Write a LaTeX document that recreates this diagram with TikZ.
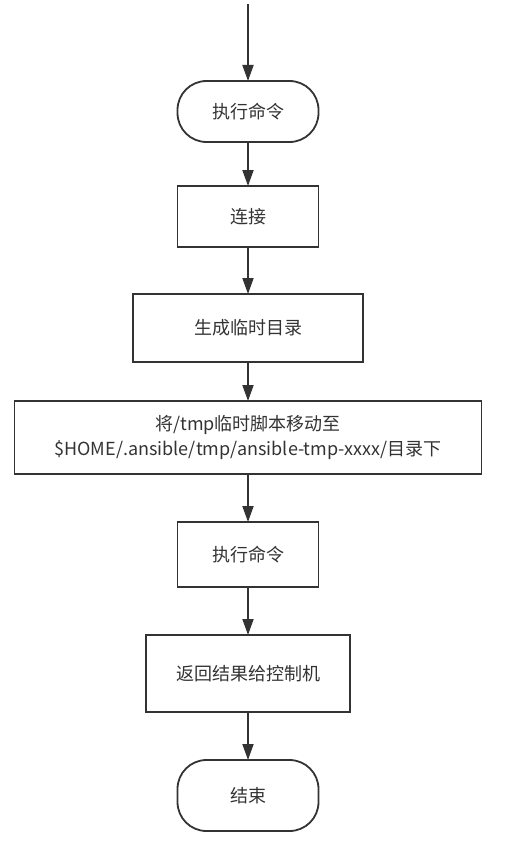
\documentclass[tikz,border=0pt]{standalone}
\usepackage{fontspec}
\setmainfont{Noto Sans CJK SC}
\usetikzlibrary{arrows.meta,positioning}
\definecolor{linegray}{HTML}{333333}

\begin{document}
\begin{tikzpicture}[
    x=1pt, y=1pt,
    font=\fontsize{18pt}{25pt}\selectfont,
    node distance=48pt,
    term/.style={rectangle, rounded corners=29pt,
      draw=linegray, line width=1.8pt, text=linegray, outer sep=0pt,
      minimum width=141pt, align=center, inner sep=0pt},
    proc/.style={rectangle,
      draw=linegray, line width=1.8pt, text=linegray, outer sep=0pt,
      align=center, inner sep=0pt},
    arr/.style={-{Triangle[length=16pt,width=11pt]}, line width=1.8pt, draw=linegray}
  ]
    \useasboundingbox (0,0) rectangle (514,-848);
    \coordinate (entry) at (248,-4);

    \node[term, below=77pt of entry, minimum height=61pt] (run1) {执行命令};
    \node[proc, below=44pt of run1, minimum width=141pt, minimum height=61pt] (conn) {连接};
    \node[proc, below=47pt of conn, minimum width=230pt, minimum height=68pt] (mkdir) {生成临时目录};
    \node[proc, below=39pt of mkdir, minimum width=467pt, minimum height=73pt] (move)
      {将/tmp临时脚本移动至\\\$HOME/.ansible/tmp/ansible-tmp-xxxx/目录下};
    \node[proc, below=of move, minimum width=141pt, minimum height=65pt] (run2) {执行命令};
    \node[proc, below=of run2, minimum width=204pt, minimum height=77pt] (ret) {返回结果给控制机};
    \node[term, below=of ret, minimum height=71pt] (fin) {结束};

    \draw[arr] (entry) -- (run1);
    \draw[arr] (run1) -- (conn);
    \draw[arr] (conn) -- (mkdir);
    \draw[arr] (mkdir) -- (move);
    \draw[arr] (move) -- (run2);
    \draw[arr] (run2) -- (ret);
    \draw[arr] (ret) -- (fin);
  \end{tikzpicture}
\end{document}
